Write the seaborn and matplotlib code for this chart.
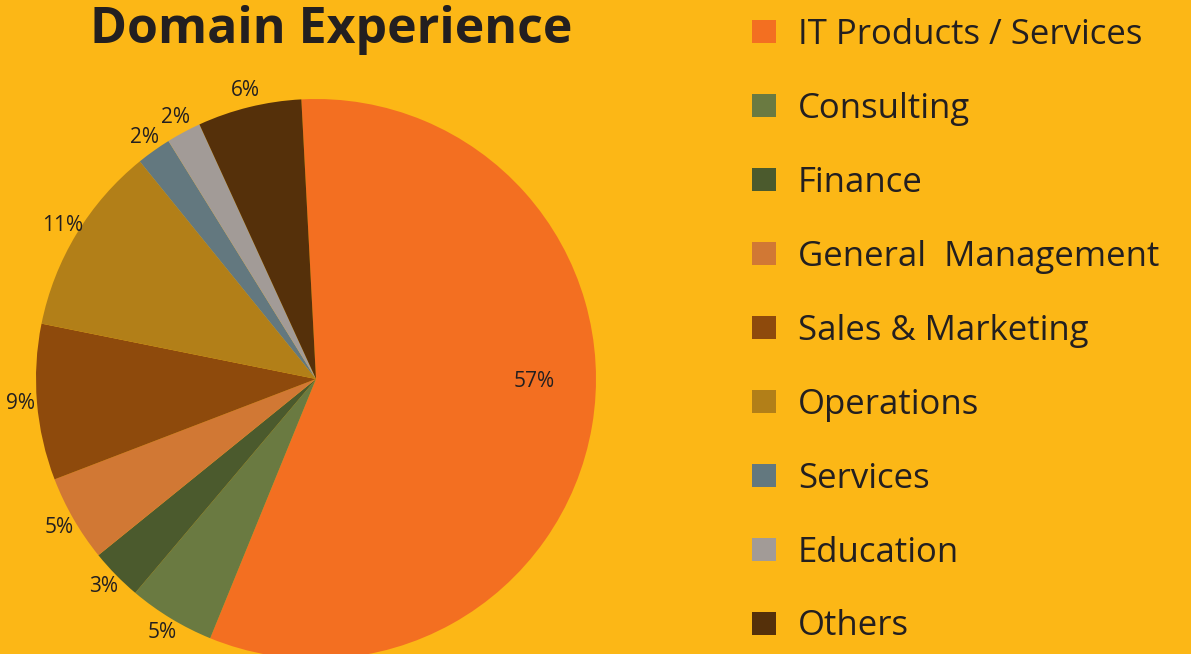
import matplotlib
matplotlib.use("Agg")
import matplotlib.pyplot as plt
import seaborn as sns

categories = [
    "IT Products / Services", "Consulting", "Finance", "General  Management",
    "Sales & Marketing", "Operations", "Services", "Education", "Others",
]
shares = [57, 5, 3, 5, 9, 11, 2, 2, 6]
colors = [
    "#F36F21", "#6A7A41", "#4B5A2D", "#D17834", "#8E4A0C",
    "#B27F18", "#63787F", "#A29B97", "#55300A",
]

bg = "#FCB716"
ink = "#231F20"

sns.set_theme(style="white")
plt.rcParams["font.family"] = ["Open Sans", "DejaVu Sans"]

W, H = 1191, 654
fig = plt.figure(figsize=(W / 100, H / 100), dpi=100, facecolor=bg)

# pie centre and radius in pixels
cx, cy, r = 316, H - 379, 280
lim = 1.25
side = 2 * lim * r
ax = fig.add_axes([(cx - side / 2) / W, (cy - side / 2) / H, side / W, side / H])
ax.set_facecolor(bg)

wedges, texts, autotexts = ax.pie(
    shares, colors=colors, startangle=93, counterclock=False,
    autopct="%d%%", pctdistance=1.06,
    wedgeprops=dict(linewidth=0),
    textprops=dict(color=ink, fontsize=15),
)
# the big slice keeps its label inside
autotexts[0].set_position((0.78, -0.01))
for t in autotexts:
    t.set_clip_on(False)

ax.set_xlim(-lim, lim)
ax.set_ylim(-lim, lim)
ax.set_aspect("equal")
ax.axis("off")

fig.text(331 / W, 1 - 30 / H, "Domain Experience", ha="center", va="center",
         fontsize=36, fontweight="bold", color=ink)

fig.legend(
    wedges, categories, loc="upper left", bbox_to_anchor=(752 / W, 1 - 18 / H),
    frameon=False, fontsize=25, labelcolor=ink,
    handlelength=0.69, handleheight=0.63, handletextpad=0.63,
    labelspacing=1.15, borderpad=0, borderaxespad=0,
)

fig.savefig("out.png", dpi=100, facecolor=bg)
